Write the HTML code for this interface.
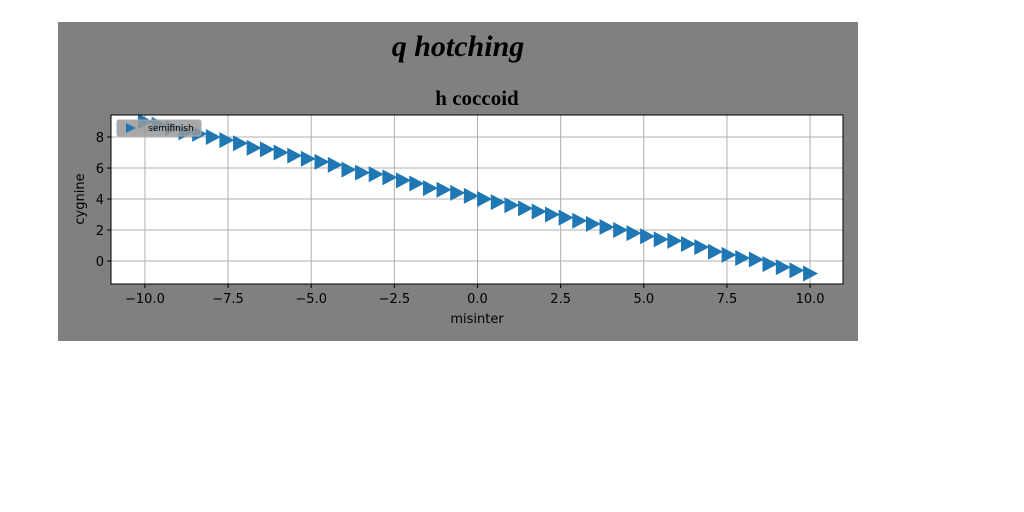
<!DOCTYPE html>
<html><head><meta charset="utf-8"><style>
body{margin:0;background:#fff;width:1024px;height:512px;overflow:hidden}
svg{display:block}
</style></head><body>
<svg width="1024" height="512" font-family="'DejaVu Sans', sans-serif">
<rect x="58" y="22" width="800" height="319" fill="#808080"/>
<text x="458" y="56" text-anchor="middle" font-family="'Liberation Serif', serif" font-style="italic" font-weight="bold" font-size="30" fill="#000">q hotching</text>
<text x="477" y="105" text-anchor="middle" font-family="'Liberation Serif', serif" font-weight="bold" font-size="21" fill="#000">h coccoid</text>
<rect x="111" y="115" width="732" height="169" fill="#fff"/>
<g id="grid"></g>
<g id="ticks"></g>
<g id="marks"></g>
<rect x="111" y="115" width="732" height="169" fill="none" stroke="#000" stroke-width="1"/>
<text x="477" y="323" text-anchor="middle" font-size="13" fill="#000">misinter</text>
<text transform="translate(84,199) rotate(-90)" text-anchor="middle" font-size="13" fill="#000">cygnine</text>
<g>
<rect x="117" y="120" width="84" height="16" rx="2" fill="#999" fill-opacity="0.85" stroke="#aaa"/>
<path d="M126,123 L136,128 L126,133 Z" fill="#1f77b4"/>
<text x="148" y="131" font-size="9" fill="#000">semifinish</text>
</g>
</svg>
<script>
const xTicks=[-10,-7.5,-5,-2.5,0,2.5,5,7.5,10];
const xTickLabels=["−10.0","−7.5","−5.0","−2.5","0.0","2.5","5.0","7.5","10.0"];
const yTicks=[0,2,4,6,8];
const yTickLabels=["0","2","4","6","8"];
const xValues=[-10,-9.59,-9.18,-8.78,-8.37,-7.96,-7.55,-7.14,-6.73,-6.33,-5.92,-5.51,-5.10,-4.69,-4.29,-3.88,-3.47,-3.06,-2.65,-2.24,-1.84,-1.43,-1.02,-0.61,-0.20,0.20,0.61,1.02,1.43,1.84,2.24,2.65,3.06,3.47,3.88,4.29,4.69,5.10,5.51,5.92,6.33,6.73,7.14,7.55,7.96,8.37,8.78,9.18,9.59,10];
const yValues=[9.0,8.8,8.6,8.3,8.2,8.0,7.8,7.6,7.3,7.2,7.0,6.8,6.6,6.4,6.2,5.9,5.7,5.6,5.4,5.2,5.0,4.7,4.6,4.4,4.2,4.0,3.8,3.6,3.4,3.2,3.0,2.8,2.6,2.4,2.2,2.0,1.8,1.6,1.4,1.3,1.1,0.9,0.6,0.4,0.2,0.1,-0.2,-0.4,-0.6,-0.8];
const NS="http://www.w3.org/2000/svg";
const X0=111,X1=843,Y0=115,Y1=284,xmin=-11.02,xmax=10.99,ymin=-1.48,ymax=9.42;
function sx(v){return X0+(v-xmin)/(xmax-xmin)*(X1-X0);}
function sy(v){return Y1-(v-ymin)/(ymax-ymin)*(Y1-Y0);}
function mk(t,a,p){const e=document.createElementNS(NS,t);for(const k in a)e.setAttribute(k,a[k]);p.appendChild(e);return e;}
const grid=document.getElementById('grid'),ticks=document.getElementById('ticks'),marks=document.getElementById('marks');
xTicks.forEach((v,i)=>{const x=sx(v);
 let l=mk('line',{x1:x,x2:x,y1:Y0,y2:Y1,stroke:'#b0b0b0','stroke-width':1},grid);
 
 
 let t=mk('line',{x1:x,x2:x,y1:Y1,y2:Y1+4,stroke:'#000'},ticks);
 
 
 let tx=mk('text',{x:x,y:Y1+19,'text-anchor':'middle','font-size':13,fill:'#000'},ticks);tx.textContent=xTickLabels[i];
 
 
});
yTicks.forEach((v,i)=>{const y=sy(v);
 let l=mk('line',{x1:X0,x2:X1,y1:y,y2:y,stroke:'#b0b0b0','stroke-width':1},grid);
 
 
 let t=mk('line',{x1:X0-4,x2:X0,y1:y,y2:y,stroke:'#000'},ticks);
 
 
 let tx=mk('text',{x:X0-7,y:y+5,'text-anchor':'end','font-size':13,fill:'#000'},ticks);tx.textContent=yTickLabels[i];
 
 
});
xValues.forEach((v,i)=>{const x=sx(v),y=sy(yValues[i]);
 let p=mk('path',{d:`M${x-7},${y-8} L${x+8},${y} L${x-7},${y+8} Z`,fill:'#1f77b4'},marks);
 
 
});
</script>
</body></html>
